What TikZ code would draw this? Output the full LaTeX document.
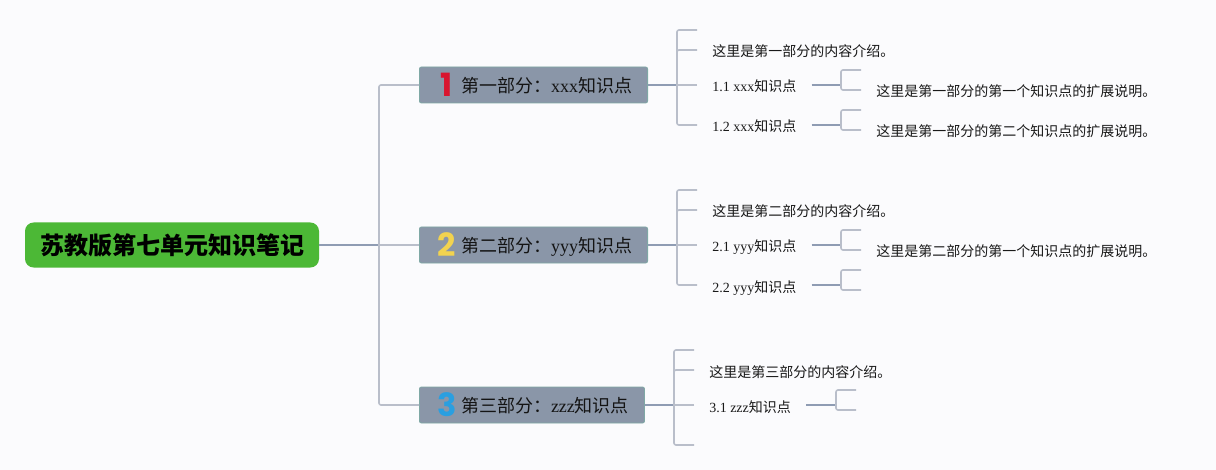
\documentclass[tikz,border=0pt]{standalone}
\usepackage{fontspec}
\setmainfont{Liberation Serif}
\newfontfamily\cjk{Noto Sans CJK SC}
\newfontfamily\digitfont{Poppins}
\newcommand{\zh}[1]{{\cjk #1}}
\definecolor{pagebg}{HTML}{FBFBFD}
\definecolor{rootgreen}{HTML}{4CB836}
\definecolor{partfill}{HTML}{8A96A8}
\definecolor{partedge}{HTML}{7FA8A5}
\definecolor{lineDark}{HTML}{8F9CB3}
\definecolor{lineLight}{HTML}{B9BECA}
\definecolor{numred}{HTML}{D9152F}
\definecolor{numyellow}{HTML}{F2D34F}
\definecolor{numblue}{HTML}{2A9FE0}
\tikzset{
  root/.style={fill=rootgreen,rounded corners=6.5pt,minimum width=220.5pt,minimum height=33.75pt,
    inner sep=0,text height=15pt,text depth=0.8pt,font=\cjk\bfseries\fontsize{18}{22}\selectfont},
  part/.style={draw=partedge,fill=partfill,line width=0.6pt,rounded corners=1.5pt,anchor=west,
    minimum height=27pt,inner ysep=0,inner xsep=11.7pt,text=black!92,
    text height=13pt,text depth=1.2pt,font=\fontsize{13.5}{16}\selectfont},
  digit/.style={font=\digitfont\bfseries\fontsize{24}{24}\selectfont,inner sep=0},
  item/.style={anchor=west,inner ysep=0,inner xsep=11.25pt,text=black!90,
    text height=11pt,text depth=0.5pt,font=\fontsize{10.5}{12}\selectfont},
  trunk/.style={draw=lineDark,line width=1.2pt},
  twig/.style={draw=lineLight,line width=1.2pt,rounded corners=1.5pt},
}
\begin{document}
\begin{tikzpicture}[x=0.75pt,y=-0.75pt]
      \fill[pagebg] (0, 0) rectangle (1216, 470);
      \useasboundingbox (0, 0) rectangle (1216, 470);

      \node[root](book) at (172, 245) {苏教版第七单元知识笔记};
      \coordinate (hub) at (379, 245);

      % the three parts
      \node[part](p1) at (419, 85) {\hspace*{19.5pt}\zh{第一部分：}xxx\zh{知识点}};
      \node[part](p2) at (419, 245) {\hspace*{19.5pt}\zh{第二部分：}yyy\zh{知识点}};
      \node[part](p3) at (419, 405) {\hspace*{19.5pt}\zh{第三部分：}zzz\zh{知识点}};
      \node[digit,text=numred](n1) at (447, 85) {1};
      \node[digit,text=numyellow](n2) at (447, 245) {2};
      \node[digit,text=numblue](n3) at (447, 405) {3};

      \draw[trunk] (book) -- (hub);
      \draw[twig] (p1.west) -| (hub);
      \draw[twig] (p2.west) -- (hub);
      \draw[twig] (p3.west) -| (hub);

      % part 1
      \coordinate (j1) at (677, 85);
      \coordinate (t1) at (697, 30);
      \node[item](i1) at (697, 50) {\zh{这里是第一部分的内容介绍。}};
      \node[item](s11) at (697, 85) {1.1 xxx\zh{知识点}};
      \node[item](s12) at (697, 125) {1.2 xxx\zh{知识点}};
      \draw[trunk] (p1.east) -- (j1);
      \draw[twig] (t1) -| (j1);
      \draw[twig] (i1.west) -| (j1);
      \draw[twig] (s11.west) -- (j1);
      \draw[twig] (s12.west) -| (j1);

      \coordinate (j11) at (841, 85);
      \coordinate (t11) at (861, 70);
      \node[item](e11) at (861, 90) {\zh{这里是第一部分的第一个知识点的扩展说明。}};
      \draw[trunk] (s11.east) -- (j11);
      \draw[twig] (t11) -| (j11);
      \draw[twig] (e11.west) -| (j11);

      \coordinate (j12) at (841, 125);
      \coordinate (t12) at (861, 110);
      \node[item](e12) at (861, 130) {\zh{这里是第一部分的第二个知识点的扩展说明。}};
      \draw[trunk] (s12.east) -- (j12);
      \draw[twig] (t12) -| (j12);
      \draw[twig] (e12.west) -| (j12);

      % part 2
      \coordinate (j2) at (677, 245);
      \coordinate (t2) at (697, 190);
      \node[item](i2) at (697, 210) {\zh{这里是第二部分的内容介绍。}};
      \node[item](s21) at (697, 245) {2.1 yyy\zh{知识点}};
      \node[item](s22) at (697, 285) {2.2 yyy\zh{知识点}};
      \draw[trunk] (p2.east) -- (j2);
      \draw[twig] (t2) -| (j2);
      \draw[twig] (i2.west) -| (j2);
      \draw[twig] (s21.west) -- (j2);
      \draw[twig] (s22.west) -| (j2);

      \coordinate (j21) at (841, 245);
      \coordinate (t21) at (861, 230);
      \node[item](e21) at (861, 250) {\zh{这里是第二部分的第一个知识点的扩展说明。}};
      \draw[trunk] (s21.east) -- (j21);
      \draw[twig] (t21) -| (j21);
      \draw[twig] (e21.west) -| (j21);

      \coordinate (j22) at (841, 285);
      \coordinate (t22) at (861, 270);
      \coordinate (b22) at (861, 290);
      \draw[trunk] (s22.east) -- (j22);
      \draw[twig] (t22) -| (j22);
      \draw[twig] (b22) -| (j22);

      % part 3
      \coordinate (j3) at (674, 405);
      \coordinate (t3) at (694, 350);
      \coordinate (b3) at (694, 445);
      \node[item](i3) at (694, 370) {\zh{这里是第三部分的内容介绍。}};
      \node[item](s31) at (694, 405) {3.1 zzz\zh{知识点}};
      \draw[trunk] (p3.east) -- (j3);
      \draw[twig] (t3) -| (j3);
      \draw[twig] (i3.west) -| (j3);
      \draw[twig] (s31.west) -- (j3);
      \draw[twig] (b3) -| (j3);

      \coordinate (j31) at (836, 405);
      \coordinate (t31) at (856, 390);
      \coordinate (b31) at (856, 410);
      \draw[trunk] (s31.east) -- (j31);
      \draw[twig] (t31) -| (j31);
      \draw[twig] (b31) -| (j31);
    \end{tikzpicture}
\end{document}
